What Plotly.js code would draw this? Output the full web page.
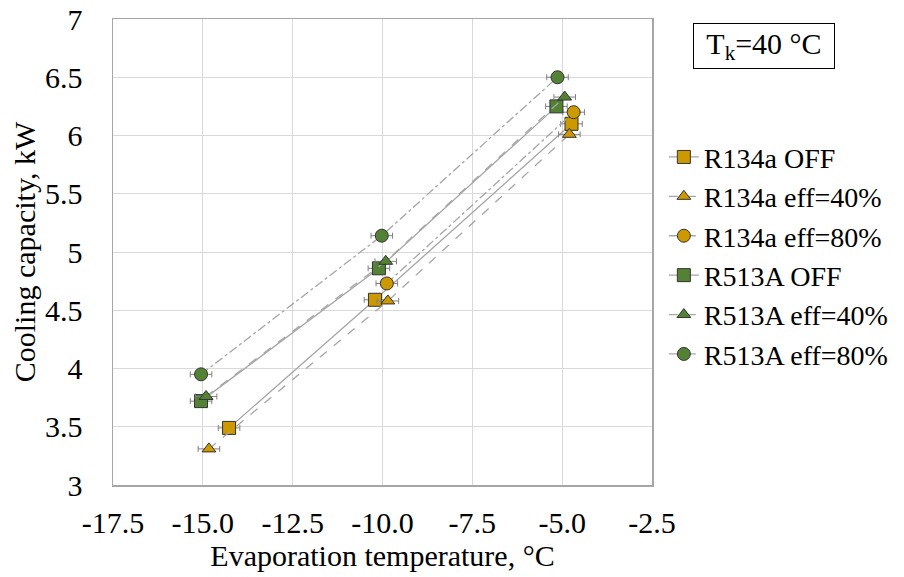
<!DOCTYPE html>
<html>
<head>
<meta charset="utf-8">
<script src="https://cdn.plot.ly/plotly-3.0.1.min.js"></script>
<style>html,body{margin:0;padding:0;background:#fff;}#chart{width:904px;height:577px;}</style>
</head>
<body>
<div id="chart"></div>
<script>
// Data
var seriesNames = ["R134a OFF", "R134a eff=40%", "R134a eff=80%", "R513A OFF", "R513A eff=40%", "R513A eff=80%"];
var r134aOffX = [-14.27, -10.21, -4.74];
var r134aOffY = [3.49, 4.59, 6.10];
var r134a40X = [-14.83, -9.85, -4.80];
var r134a40Y = [3.31, 4.58, 6.01];
var r134a80X = [-9.88, -4.68];
var r134a80Y = [4.73, 6.20];
var r513aOffX = [-15.05, -10.10, -5.16];
var r513aOffY = [3.72, 4.86, 6.25];
var r513a40X = [-14.91, -9.91, -4.93];
var r513a40Y = [3.76, 4.92, 6.33];
var r513a80X = [-15.05, -10.02, -5.13];
var r513a80Y = [3.95, 5.14, 6.50];
var xErr = 0.3;
var xTickVals = [-17.5, -15, -12.5, -10, -7.5, -5, -2.5];
var xTickText = ["-17.5", "-15.0", "-12.5", "-10.0", "-7.5", "-5.0", "-2.5"];
var yTickVals = [3, 3.5, 4, 4.5, 5, 5.5, 6, 6.5, 7];
var yTickText = ["3", "3.5", "4", "4.5", "5", "5.5", "6", "6.5", "7"];

var gold = "#CC9900", green = "#548235";
var xs = [r134aOffX, r134a40X, r134a80X, r513aOffX, r513a40X, r513a80X];
var ys = [r134aOffY, r134a40Y, r134a80Y, r513aOffY, r513a40Y, r513a80Y];
var colors = [gold, gold, gold, green, green, green];
var symbols = ["square", "triangle-up", "circle", "square", "triangle-up", "circle"];
var dashes = ["solid", "dash", "dashdot", "solid", "dash", "dashdot"];
var sizes = [13, 12, 13, 13, 12, 13];

var traces = seriesNames.map(function(name, i){
  return {
    type: "scatter", mode: "lines+markers", name: name,
    x: xs[i], y: ys[i],
    line: {color: "#A6A6A6", width: 1.3, dash: dashes[i]},
    marker: {color: colors[i], symbol: symbols[i], size: sizes[i], line: {color: "#333333", width: 1}},
    error_x: {type: "constant", value: xErr, color: "#808080", thickness: 1, width: 3}
  };
});

function F(s){ return {family: "Liberation Serif", size: s || 30, color: "#000000"}; }
var layout = {
  width: 904, height: 577,
  margin: {l: 113, r: 252, t: 19, b: 92, autoexpand: false},
  paper_bgcolor: "#fff", plot_bgcolor: "#fff",
  font: F(),
  showlegend: true,
  legend: {x: 1.022, y: 0.757, xanchor: "left", yanchor: "top", font: F(28), itemwidth: 30, bgcolor: "rgba(0,0,0,0)"},
  xaxis: {
    range: [-17.5, -2.5], tickmode: "array", tickvals: xTickVals, ticktext: xTickText,
    showgrid: true, gridcolor: "#D9D9D9", gridwidth: 1,
    zeroline: false, showline: true, mirror: true, linecolor: "#A6A6A6", linewidth: 1.5,
    ticks: "", ticklabelstandoff: 10, tickfont: F(), automargin: false,
    title: {text: "Evaporation temperature, °C", font: F(), standoff: 0}
  },
  yaxis: {
    range: [3, 7], tickmode: "array", tickvals: yTickVals, ticktext: yTickText,
    showgrid: true, gridcolor: "#D9D9D9", gridwidth: 1,
    zeroline: false, showline: true, mirror: true, linecolor: "#A6A6A6", linewidth: 1.5,
    ticks: "", ticklabelstandoff: 23, tickfont: F(), automargin: false,
    title: {text: "Cooling capacity, kW", font: F(), standoff: 0}
  },
  annotations: [{
    xref: "paper", yref: "paper", x: 1.208, y: 0.942, xanchor: "center", yanchor: "middle",
    text: "T<sub>k</sub>=40 °C", showarrow: false, font: F(), width: 134, align: "center",
    bordercolor: "#000", borderwidth: 1, borderpad: 3, bgcolor: "#fff"
  }]
};
Plotly.newPlot("chart", traces, layout, {displayModeBar: false, staticPlot: true});
</script>
</body>
</html>
